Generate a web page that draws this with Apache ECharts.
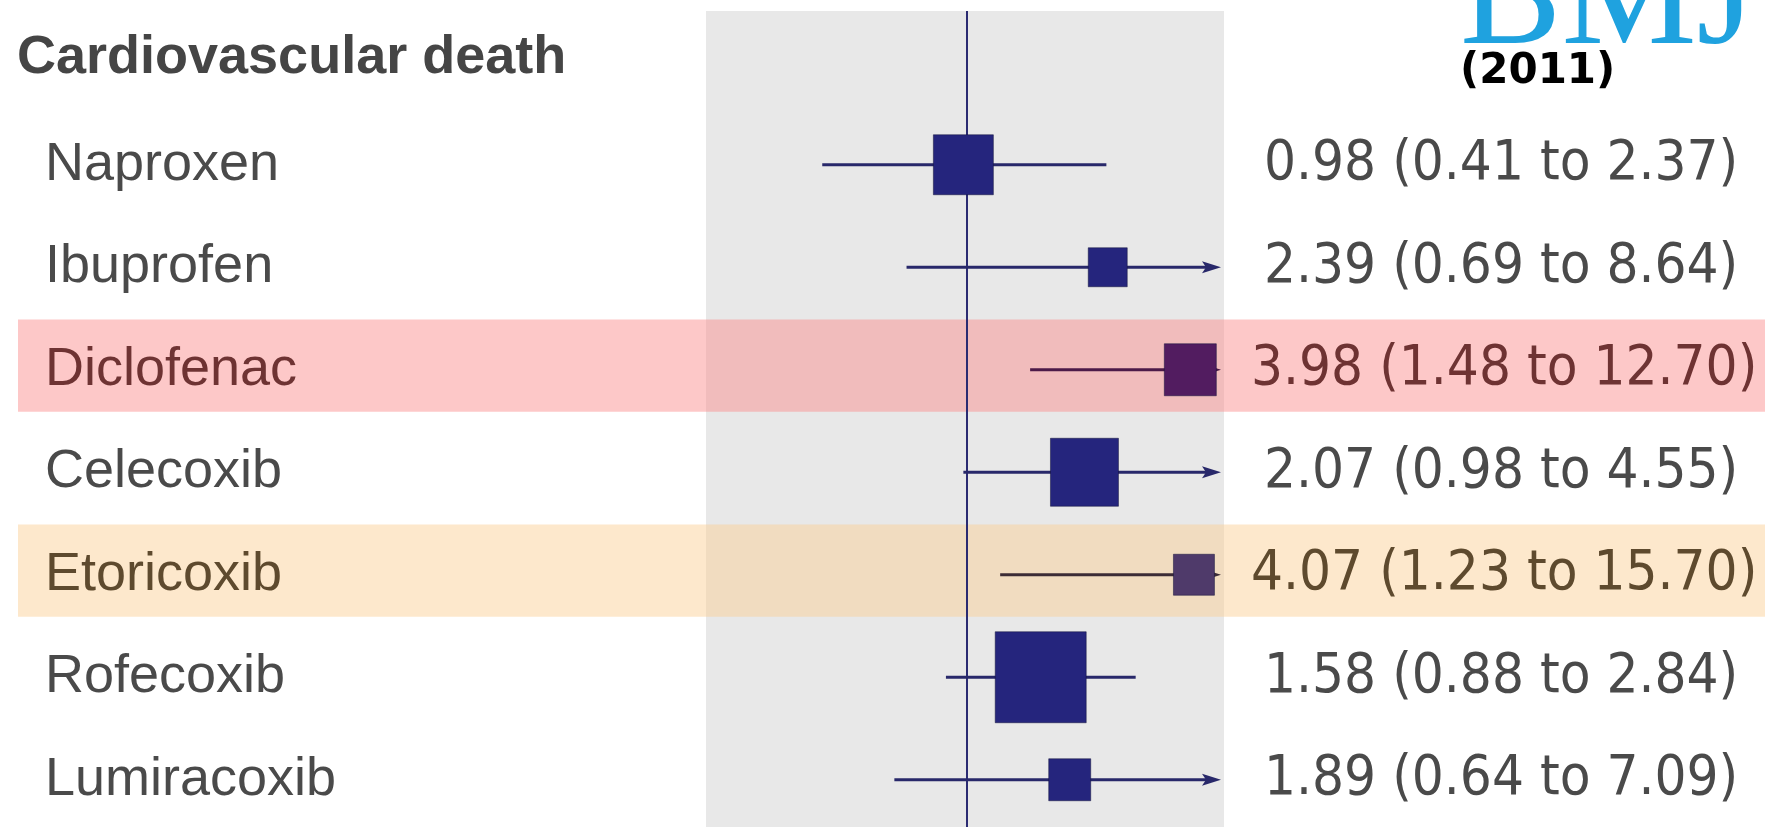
<!DOCTYPE html>
<html>
<head>
<meta charset="utf-8">
<title>Cardiovascular death - forest plot</title>
<script src="https://cdn.jsdelivr.net/npm/echarts@6/dist/echarts.min.js"></script>
<style>
  html, body { margin: 0; padding: 0; background: #fff; }
  #chart { width: 1765px; height: 827px; }
</style>
</head>
<body>
<div id="chart"></div>
<script>
// forest plot: cardiovascular death, rate ratio (95% CI) vs placebo

const groupTitle = 'Cardiovascular death';
const drugs = ['Naproxen', 'Ibuprofen', 'Diclofenac', 'Celecoxib', 'Etoricoxib', 'Rofecoxib', 'Lumiracoxib'];
const estimate = [0.98, 2.39, 3.98, 2.07, 4.07, 1.58, 1.89];
const lower = [0.41, 0.69, 1.48, 0.98, 1.23, 0.88, 0.64];
const upper = [2.37, 8.64, 12.70, 4.55, 15.70, 2.84, 7.09];
// relative weight of each estimate (box size)
const weight = [6.0, 3.9, 5.2, 6.8, 4.1, 9.1, 4.2];
// highlighted rows
const highlight = ['n', 'n', 'red', 'n', 'orange', 'n', 'n'];

// axis range (log scale) and where the CI gets cut off with an arrow
const xMin = 0.2;
const xMax = 4.9;
const clipAt = 4.5;

const rows = [groupTitle].concat(drugs);

const rowStyle = {
  n: { text: '#4a4a4a', box: '#25257d', line: '#28286a' },
  red: { text: '#6e3333', box: '#521c60', line: '#4c1a48', band: 'rgba(251,140,140,0.48)' },
  orange: { text: '#5e4a2e', box: '#4f3a6a', line: '#3c2c36', band: 'rgba(251,207,149,0.48)' }
};

function ciText(i) {
  return estimate[i].toFixed(2) + ' (' + lower[i].toFixed(2) + ' to ' + upper[i].toFixed(2) + ')';
}

const labelFont = '"Liberation Sans", Arial, sans-serif';
const numFont = '"Liberation Sans Narrow", "Arial Narrow", "DejaVu Sans Condensed", sans-serif';

function leftRich() {
  const r = {
    h: { fontFamily: labelFont, fontWeight: 'bold', fontSize: 54, color: '#454545', padding: [0, 0, 8, 0] }
  };
  Object.keys(rowStyle).forEach(k => {
    r[k] = { fontFamily: labelFont, fontSize: 54, color: rowStyle[k].text, padding: [0, 0, 0, 28] };
  });
  return r;
}

function rightRich() {
  const r = {};
  Object.keys(rowStyle).forEach(k => {
    r[k] = {
      fontFamily: numFont, fontSize: 56, color: rowStyle[k].text,
      padding: [0, 0, 0, k === 'n' ? 13 : 0]
    };
  });
  return r;
}

const chart = echarts.init(document.getElementById('chart'));

const bandData = [];
highlight.forEach((h, i) => {
  if (h !== 'n') bandData.push({ value: [1, i + 1], kind: h });
});

const forestData = drugs.map((d, i) => [estimate[i], i + 1, lower[i], upper[i], weight[i], i]);

const option = {
  animation: false,
  backgroundColor: '#ffffff',
  grid: {
    left: 706, right: 541, top: 11, bottom: -4,
    containLabel: false, outerBoundsMode: 'none',
    show: true, backgroundColor: '#e8e8e8', borderWidth: 0
  },
  xAxis: { type: 'log', logBase: 10, min: xMin, max: xMax, show: false },
  yAxis: [
    {
      type: 'category', data: rows, inverse: true, position: 'left', z: 10,
      axisLine: { show: false }, axisTick: { show: false }, splitLine: { show: false },
      axisLabel: {
        interval: 0, margin: 706 - 17, align: 'left',
        formatter: function (v, i) {
          if (i === 0) return '{h|' + v + '}';
          return '{' + highlight[i - 1] + '|' + v + '}';
        },
        rich: leftRich()
      }
    },
    {
      type: 'category', data: rows, inverse: true, position: 'right', z: 10,
      axisLine: { show: false }, axisTick: { show: false }, splitLine: { show: false },
      axisLabel: {
        interval: 0, margin: 27, align: 'left',
        formatter: function (v, i) {
          if (i === 0) return '';
          return '{' + highlight[i - 1] + '|' + ciText(i - 1) + '}';
        },
        rich: rightRich()
      }
    }
  ],
  graphic: [
    {
      type: 'text', left: 1460, top: -73, z: 20, silent: true,
      style: { text: 'BMJ', font: 'normal 152px "Liberation Serif", serif', fill: '#1fa2df' }
    },
    {
      type: 'text', left: 1460, top: 51, z: 20, silent: true,
      style: { text: '(2011)', font: 'bold 42px "DejaVu Sans", sans-serif', fill: '#000000' }
    }
  ],
  series: [
    {
      // highlight bands behind the rows
      type: 'custom',
      z: 1,
      silent: true,
      clip: false,
      data: bandData,
      renderItem: function (params, api) {
        const c = api.coord([1, api.value(1)]);
        const h = api.size([0, 1])[1];
        const kind = bandData[params.dataIndex].kind;
        return {
          type: 'rect',
          shape: { x: 18, y: c[1] - 0.49 * h, width: api.getWidth() - 18, height: 0.9 * h },
          style: { fill: rowStyle[kind].band }
        };
      }
    },
    {
      // line of no effect
      type: 'line',
      z: 3,
      data: [],
      markLine: {
        silent: true,
        symbol: ['none', 'none'],
        label: { show: false },
        lineStyle: { color: '#2b2b72', width: 2, type: 'solid' },
        data: [{ xAxis: 1 }]
      }
    },
    {
      // confidence intervals and point estimates
      type: 'custom',
      z: 5,
      silent: true,
      clip: false,
      data: forestData,
      renderItem: function (params, api) {
        const y = api.value(1);
        const lo = api.value(2);
        const hi = api.value(3);
        const idx = api.value(5);
        const st = rowStyle[highlight[idx]];
        const pEst = api.coord([api.value(0), y]);
        const pLo = api.coord([lo, y]);
        const cut = hi > clipAt;
        const tipX = api.coord([xMax, y])[0] - 3;
        const endX = cut ? tipX - 10 : api.coord([hi, y])[0];
        const s = api.value(4) * 10;
        const children = [
          {
            type: 'line',
            shape: { x1: pLo[0], y1: pLo[1], x2: endX, y2: pLo[1] },
            style: { stroke: st.line, lineWidth: 3 }
          }
        ];
        if (cut) {
          children.push({
            type: 'polygon',
            shape: { points: [[tipX, pLo[1]], [tipX - 19, pLo[1] - 6], [tipX - 15, pLo[1]], [tipX - 19, pLo[1] + 6]] },
            style: { fill: st.line }
          });
        }
        children.push({
          type: 'rect',
          shape: { x: pEst[0] - s / 2, y: pEst[1] - s / 2, width: s, height: s },
          style: { fill: st.box, stroke: 'rgba(20,20,60,0.5)', lineWidth: 1 }
        });
        return { type: 'group', children: children };
      }
    }
  ]
};

chart.setOption(option);

window.addEventListener('resize', function () {
  chart.resize();
});
</script>
</body>
</html>
